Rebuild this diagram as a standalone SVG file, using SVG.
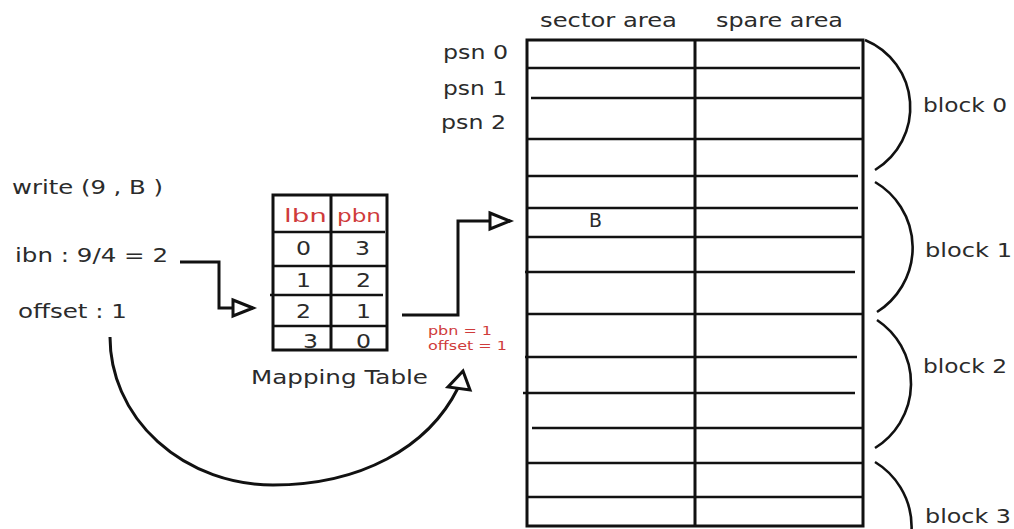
<svg xmlns="http://www.w3.org/2000/svg" width="1014" height="529" viewBox="0 0 1014 529">
  <style>
    .lbl { font-family: "DejaVu Sans", "Liberation Sans", sans-serif; font-size: 19px; fill: #2b2b2b; }
    .red { font-family: "DejaVu Sans", "Liberation Sans", sans-serif; fill: #cf3b3b; }
    .hdr { font-size: 18px; }
    .note { font-size: 13px; }
    .ln { stroke: #111; stroke-width: 3; fill: none; }
    .row { stroke: #111; stroke-width: 2.6; fill: none; }
    .brace { stroke: #111; stroke-width: 2.6; fill: none; }
    .head { stroke: #111; stroke-width: 3; fill: #fff; stroke-linejoin: miter; }
  </style>
  <defs>
    <marker id="openArrow" viewBox="0 0 24 20" refX="22" refY="10" markerWidth="24" markerHeight="20" markerUnits="userSpaceOnUse" orient="auto" overflow="visible">
      <path class="head" d="M2,2 L22,10 L2,18 Z"/>
    </marker>
  </defs>
  <rect width="1014" height="529" fill="#fff"/>

  <!-- request and address split -->
  <g id="request">
    <text class="lbl" x="12" y="194" textLength="151" lengthAdjust="spacingAndGlyphs">write (9 , B )</text>
    <text class="lbl" x="15" y="262" textLength="153" lengthAdjust="spacingAndGlyphs">ibn : 9/4 = 2</text>
    <text class="lbl" x="18" y="318" textLength="109" lengthAdjust="spacingAndGlyphs">offset : 1</text>
  </g>

  <!-- logical-to-physical block mapping table -->
  <g id="mapping-table">
    <rect class="ln" x="273" y="195" width="114" height="155"/>
    <line class="ln" x1="331" y1="195" x2="331" y2="350"/>
    <line class="row" x1="273" y1="232" x2="385" y2="232"/>
    <line class="row" x1="273" y1="266" x2="387" y2="266"/>
    <line class="row" x1="270" y1="295" x2="383" y2="295"/>
    <line class="row" x1="273" y1="326" x2="387" y2="326"/>
    <text class="red hdr" x="284" y="222" textLength="43" lengthAdjust="spacingAndGlyphs">lbn</text>
    <text class="red hdr" x="337" y="222" textLength="44" lengthAdjust="spacingAndGlyphs">pbn</text>
    <text class="lbl" x="296" y="255" textLength="15" lengthAdjust="spacingAndGlyphs">0</text>
    <text class="lbl" x="355" y="255" textLength="15" lengthAdjust="spacingAndGlyphs">3</text>
    <text class="lbl" x="296" y="287" textLength="15" lengthAdjust="spacingAndGlyphs">1</text>
    <text class="lbl" x="356" y="287" textLength="15" lengthAdjust="spacingAndGlyphs">2</text>
    <text class="lbl" x="296" y="318" textLength="15" lengthAdjust="spacingAndGlyphs">2</text>
    <text class="lbl" x="356" y="318" textLength="15" lengthAdjust="spacingAndGlyphs">1</text>
    <text class="lbl" x="303" y="348" textLength="15" lengthAdjust="spacingAndGlyphs">3</text>
    <text class="lbl" x="356" y="348" textLength="15" lengthAdjust="spacingAndGlyphs">0</text>
    <text class="lbl" x="251" y="384" textLength="177" lengthAdjust="spacingAndGlyphs">Mapping Table</text>
  </g>

  <!-- lookup result -->
  <g id="lookup-result">
    <text class="red note" x="428" y="335" textLength="64" lengthAdjust="spacingAndGlyphs">pbn = 1</text>
    <text class="red note" x="428" y="350" textLength="79" lengthAdjust="spacingAndGlyphs">offset = 1</text>
  </g>

  <!-- flash memory: sector area / spare area -->
  <g id="flash">
    <text class="lbl" x="540" y="27" textLength="137" lengthAdjust="spacingAndGlyphs">sector area</text>
    <text class="lbl" x="716" y="27" textLength="127" lengthAdjust="spacingAndGlyphs">spare area</text>
    <text class="lbl" x="443" y="59" textLength="65" lengthAdjust="spacingAndGlyphs">psn 0</text>
    <text class="lbl" x="443" y="95" textLength="64" lengthAdjust="spacingAndGlyphs">psn 1</text>
    <text class="lbl" x="441" y="129" textLength="65" lengthAdjust="spacingAndGlyphs">psn 2</text>
    <rect class="ln" x="527" y="40" width="336" height="486"/>
    <line class="ln" x1="695" y1="40" x2="695" y2="526"/>
    <g class="row">
      <line x1="527" y1="68" x2="860" y2="68"/>
      <line x1="531" y1="98" x2="863" y2="98"/>
      <line x1="527" y1="139" x2="863" y2="139"/>
      <line x1="527" y1="176" x2="858" y2="176"/>
      <line x1="527" y1="208" x2="858" y2="208"/>
      <line x1="527" y1="237" x2="863" y2="237"/>
      <line x1="525" y1="272" x2="855" y2="272"/>
      <line x1="527" y1="314" x2="863" y2="314"/>
      <line x1="525" y1="357" x2="857" y2="357"/>
      <line x1="523" y1="393" x2="855" y2="393"/>
      <line x1="532" y1="428" x2="863" y2="428"/>
      <line x1="527" y1="463" x2="863" y2="463"/>
      <line x1="527" y1="497" x2="863" y2="497"/>
    </g>
    <text class="lbl" x="589" y="227" textLength="13" lengthAdjust="spacingAndGlyphs">B</text>
  </g>

  <!-- block braces -->
  <g id="block-0">
    <path class="brace" d="M865,40 A73,73 0 0 1 875,170"/>
    <text class="lbl" x="923" y="112" textLength="84" lengthAdjust="spacingAndGlyphs">block 0</text>
  </g>
  <g id="block-1">
    <path class="brace" d="M875,182 A76,76 0 0 1 877,312"/>
    <text class="lbl" x="925" y="257" textLength="87" lengthAdjust="spacingAndGlyphs">block 1</text>
  </g>
  <g id="block-2">
    <path class="brace" d="M877,320 A76,76 0 0 1 875,448"/>
    <text class="lbl" x="923" y="373" textLength="84" lengthAdjust="spacingAndGlyphs">block 2</text>
  </g>
  <g id="block-3">
    <path class="brace" d="M875,462 A76,76 0 0 1 875,592"/>
    <text class="lbl" x="925" y="523" textLength="86" lengthAdjust="spacingAndGlyphs">block 3</text>
  </g>

  <!-- connectors -->
  <g id="connectors">
    <path class="ln" d="M180,262 H219 V308 H253" marker-end="url(#openArrow)"/>
    <path class="ln" d="M402,315 H458 V221 H510" marker-end="url(#openArrow)"/>
    <path class="ln" d="M110,337 A163,148 0 0 0 273,485 C360,485 428,448 458,388"/>
    <polygon class="head" points="463,371 448,387 470,390"/>
  </g>
</svg>
